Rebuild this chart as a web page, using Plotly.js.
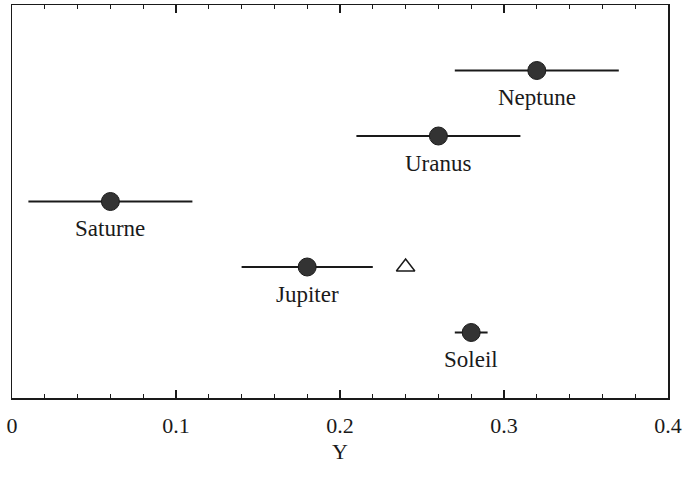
<!DOCTYPE html>
<html><head><meta charset="utf-8">
<script src="https://cdn.plot.ly/plotly-3.0.1.min.js"></script>
<style>html,body{margin:0;padding:0;background:#fff}#chart{width:691px;height:495px}</style>
</head><body><div id="chart"></div>
<script>
const planets = ["Soleil", "Jupiter", "Saturne", "Uranus", "Neptune"];
const rowPos = [1, 2, 3, 4, 5];
const yValues = [0.28, 0.18, 0.06, 0.26, 0.32];
const yErrors = [0.01, 0.04, 0.05, 0.05, 0.05];
const triangleX = [0.24];
const triangleRow = [2];
const xTicks = [0, 0.1, 0.2, 0.3, 0.4];
const xTickText = ["0", "0.1", "0.2", "0.3", "0.4"];

const ink = "#1a1a1a";
const serif = "Liberation Serif, Times New Roman, serif";
const data = [
  {
    type: "scatter", mode: "markers",
    x: yValues, y: rowPos,
    error_x: {type: "data", array: yErrors, visible: true, color: ink, thickness: 2, width: 0},
    marker: {size: 18, color: "#333", line: {color: ink, width: 1}},
    hoverinfo: "skip", showlegend: false
  },
  {
    type: "scatter", mode: "markers",
    x: triangleX, y: triangleRow,
    marker: {symbol: "triangle-up-open", size: 16, color: ink, line: {width: 1.5}},
    hoverinfo: "skip", showlegend: false
  },
  {
    type: "scatter", mode: "none",
    x: xTicks, y: xTicks.map(() => 3), xaxis: "x2",
    hoverinfo: "skip", showlegend: false
  }
];

const annotations = planets.map((p, i) => ({
  x: yValues[i], y: rowPos[i], xref: "x", yref: "y",
  text: p, showarrow: false, yshift: -27,
  font: {family: serif, size: 23, color: ink}
}));

const layout = {
  width: 691, height: 495,
  margin: {l: 12, r: 23, t: 5, b: 97},
  paper_bgcolor: "#fff", plot_bgcolor: "#fff",
  font: {family: serif, color: ink},
  xaxis: {
    range: [0, 0.4], tickvals: xTicks, ticktext: xTickText,
    ticks: "inside", ticklen: 8, tickwidth: 1.5, tickcolor: ink,
    showline: true, linecolor: ink, linewidth: 1.5, mirror: "ticks",
    showgrid: false, zeroline: false,
    tickfont: {size: 22, color: ink}, ticklabelstandoff: 7,
    title: {text: "Y", font: {size: 22, color: ink}, standoff: 6}
  },
  xaxis2: {
    overlaying: "x", anchor: "y", side: "bottom",
    range: [0, 0.4], tickmode: "linear", tick0: 0, dtick: 0.02,
    ticks: "inside", ticklen: 4, tickwidth: 1.2, tickcolor: ink,
    showticklabels: false, showline: false, mirror: "ticks",
    showgrid: false, zeroline: false
  },
  yaxis: {
    range: [0, 6], showticklabels: false, ticks: "",
    showline: true, linecolor: ink, linewidth: 1.5, mirror: true,
    showgrid: false, zeroline: false
  },
  annotations: annotations
};

Plotly.newPlot("chart", data, layout, {staticPlot: true, displayModeBar: false});
</script></body></html>
